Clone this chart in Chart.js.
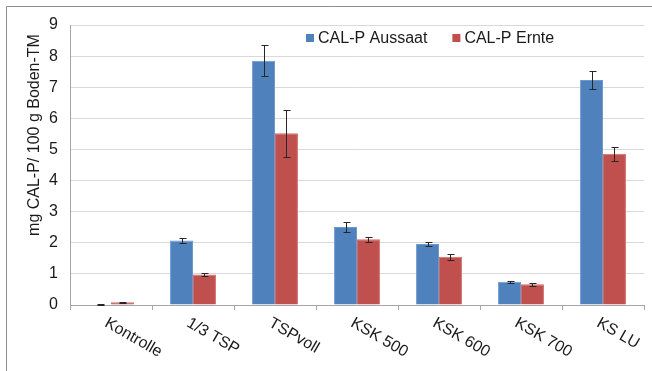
<!DOCTYPE html>
<html>
<head>
<meta charset="utf-8">
<script src="https://cdn.jsdelivr.net/npm/chart.js@4"></script>
<style>
  body { margin: 0; background: #fff; }
  #wrap { width: 652px; height: 371px; }
</style>
</head>
<body>
<div id="wrap"><canvas id="myChart" width="652" height="371"></canvas></div>
<script>
const categories = ["Kontrolle", "1/3 TSP", "TSPvoll", "KSK 500", "KSK 600", "KSK 700", "KS LU"];
const aussaat = [0.02, 2.07, 7.85, 2.51, 1.96, 0.75, 7.23];
const aussaatErr = [0.01, 0.08, 0.5, 0.17, 0.05, 0.03, 0.3];
const ernte = [0.09, 0.98, 5.52, 2.11, 1.55, 0.67, 4.86];
const ernteErr = [0.02, 0.04, 0.75, 0.07, 0.1, 0.05, 0.22];
const yTicks = [0, 1, 2, 3, 4, 5, 6, 7, 8, 9];
const yTitle = "mg CAL-P/ 100 g Boden-TM";

const font = "'Liberation Sans', Arial, sans-serif";

// frame + white background
const framePlugin = {
    id: "frame",
    beforeDraw(chart) {
        const ctx = chart.ctx;
        ctx.save();
        ctx.fillStyle = "#fff";
        ctx.fillRect(0, 0, chart.width, chart.height);
        ctx.strokeStyle = "#8c8c8c";
        ctx.lineWidth = 1;
        ctx.beginPath();
        ctx.moveTo(6.5, chart.height);
        ctx.lineTo(6.5, 6.5);
        ctx.lineTo(chart.width, 6.5);
        ctx.stroke();
        ctx.restore();
    }
};

// error bars, category labels, legend, axis title
const extrasPlugin = {
    id: "extras",
    afterDatasetsDraw(chart) {
        const ctx = chart.ctx;
        const y = chart.scales.y;
        const errs = [aussaatErr, ernteErr];
        ctx.save();
        ctx.strokeStyle = "#262626";
        ctx.lineWidth = 1;
        chart.data.datasets.forEach((ds, i) => {
            chart.getDatasetMeta(i).data.forEach((bar, j) => {
                const v = ds.data[j], e = errs[i][j];
                const x = Math.round(bar.x) + 0.5;
                const t = Math.round(y.getPixelForValue(v + e)) + 0.5;
                const b = Math.round(y.getPixelForValue(Math.max(0, v - e))) + 0.5;
                ctx.beginPath();
                ctx.moveTo(x, t); ctx.lineTo(x, b);
                ctx.moveTo(x - 3, t); ctx.lineTo(x + 4, t);
                ctx.moveTo(x - 3, b); ctx.lineTo(x + 4, b);
                ctx.stroke();
            });
        });
        ctx.restore();
    },
    afterDraw(chart) {
        const ctx = chart.ctx;
        const xs = chart.scales.x;
        const area = chart.chartArea;
        ctx.save();
        ctx.fillStyle = "#1a1a1a";
        ctx.font = "16px " + font;
        // rotated category labels
        ctx.textAlign = "left";
        ctx.textBaseline = "top";
        categories.forEach((c, i) => {
            ctx.save();
            ctx.translate(xs.getPixelForValue(i) - 1, area.bottom + 10);
            ctx.rotate(Math.PI / 6);
            ctx.fillText(c, 0, 0);
            ctx.restore();
        });
        // y title
        ctx.save();
        ctx.translate(35, 135);
        ctx.rotate(-Math.PI / 2);
        ctx.textAlign = "center";
        ctx.textBaseline = "middle";
        ctx.fillText(yTitle, 0, 0);
        ctx.restore();
        // legend
        let lx = 306;
        const ly = 38;
        ctx.textBaseline = "middle";
        chart.data.datasets.forEach(ds => {
            ctx.fillStyle = ds.backgroundColor;
            ctx.fillRect(lx, ly - 4, 8, 8);
            ctx.fillStyle = "#1a1a1a";
            ctx.fillText(ds.label, lx + 12, ly + 1);
            lx += 12 + ctx.measureText(ds.label).width + 25;
        });
        ctx.restore();
    }
};

new Chart(document.getElementById("myChart"), {
    type: "bar",
    data: {
        labels: categories,
        datasets: [{
            label: "CAL-P Aussaat",
            data: aussaat,
            backgroundColor: "#4f81bd",
            borderColor: "#6d98cc",
            borderWidth: 1,
            categoryPercentage: 0.56,
            barPercentage: 1
        }, {
            label: "CAL-P Ernte",
            data: ernte,
            backgroundColor: "#c0504d",
            borderColor: "#d06b68",
            borderWidth: 1,
            categoryPercentage: 0.56,
            barPercentage: 1
        }]
    },
    options: {
        responsive: false,
        animation: false,
        layout: { padding: { top: 25, right: 8, bottom: 0, left: 0 } },
        plugins: {
            legend: { display: false },
            tooltip: { enabled: false }
        },
        scales: {
            x: {
                ticks: { display: false },
                grid: {
                    display: true,
                    drawOnChartArea: false,
                    drawTicks: true,
                    tickLength: 5,
                    color: "#a6a6a6"
                },
                border: { color: "#a6a6a6" },
                afterFit: s => { s.height = 66; }
            },
            y: {
                min: 0,
                max: 9,
                afterBuildTicks: s => { s.ticks = yTicks.map(v => ({ value: v })); },
                ticks: {
                    color: "#1a1a1a",
                    font: { family: font, size: 16 },
                    padding: 12
                },
                grid: { color: "#d9d9d9", drawTicks: false },
                border: { color: "#a6a6a6" },
                afterFit: s => { s.width = 70; s.paddingTop = 0; s.paddingBottom = 0; }
            }
        }
    },
    plugins: [framePlugin, extrasPlugin]
});
</script>
</body>
</html>
